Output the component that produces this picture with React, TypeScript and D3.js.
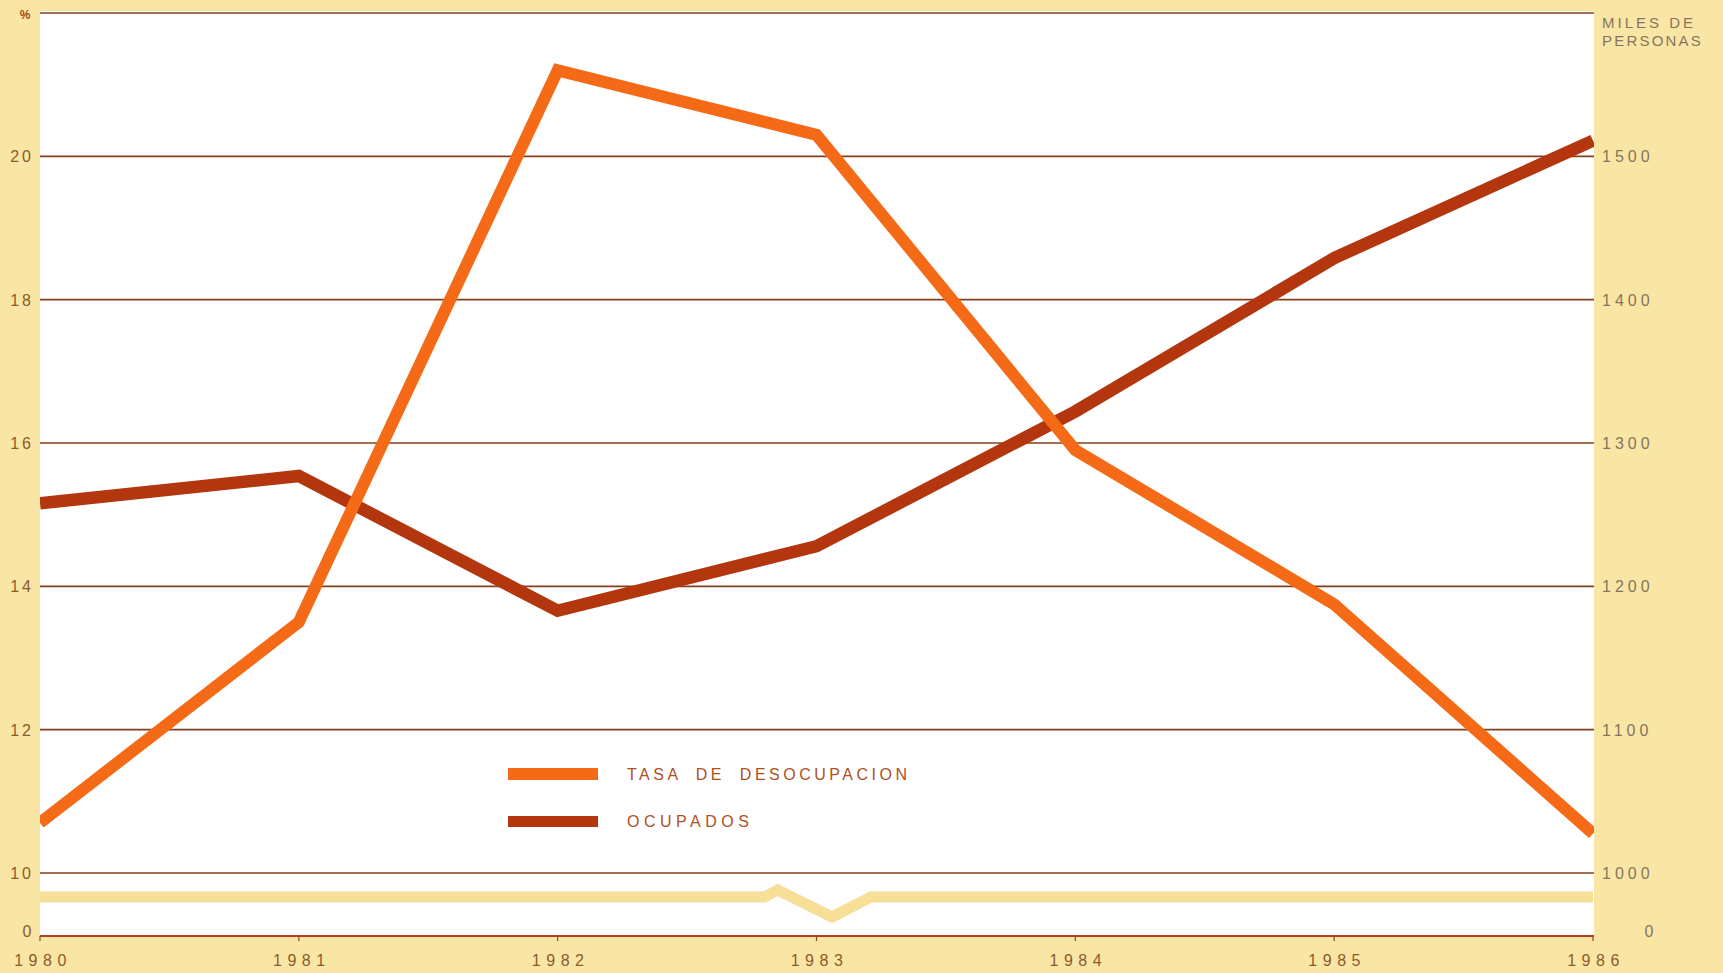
import React from "react";
import * as d3 from "d3";

const years = [1980, 1981, 1982, 1983, 1984, 1985, 1986];
const desocupacion = [10.7, 13.5, 21.2, 20.3, 15.9, 13.75, 10.55];
const ocupados = [1258, 1277, 1183, 1228, 1322, 1429, 1511];
const leftTicks = [10, 12, 14, 16, 18, 20];
const rightTicks = [1000, 1100, 1200, 1300, 1400, 1500];
const gridLevels = [10, 12, 14, 16, 18, 20, 22];
// broken-axis band marker
const breakX = [1980, 1982.8, 1982.85, 1983.06, 1983.21, 1986];
const breakDy = [0, 0, -7, 20, 0, 0];

const W = 1723;
const H = 973;
const L = 40;
const R = 1594;
const BG = "#fae6a4";
const ORANGE = "#f46a16";
const DARK = "#b3360f";
const GRID = "#84401a";

export default function App() {
  const x = d3.scaleLinear().domain([1980, 1986]).range([L, R - 1]);
  const yL = d3.scaleLinear().domain([10, 22]).range([873, 13]);
  const yR = d3.scaleLinear().domain([1000, 1600]).range([873, 13]);
  const zeroY = 936;
  const bandY = 897;

  const lineL = d3
    .line<number>()
    .x((_, i) => x(years[i]))
    .y((d) => yL(d));
  const lineR = d3
    .line<number>()
    .x((_, i) => x(years[i]))
    .y((d) => yR(d));
  const bandLine = d3
    .line<number>()
    .x((d) => x(d))
    .y((_, i) => bandY + breakDy[i]);

  const font = "'Liberation Sans', Arial, sans-serif";

  return (
    <svg
      width={W}
      height={H}
      style={{ position: "absolute", left: 0, top: 0, display: "block" }}
      fontFamily={font}
    >
      <defs>
        <clipPath id="plot">
          <rect x={L} y={0} width={R - L} height={zeroY} />
        </clipPath>
      </defs>
      <rect x={0} y={0} width={W} height={H} fill={BG} />
      <rect x={L} y={11} width={R - L} height={zeroY - 11} fill="#ffffff" />

      {/* break band */}
      <path
        d={bandLine(breakX) || ""}
        fill="none"
        stroke="#f8df98"
        strokeWidth={11}
        strokeLinejoin="miter"
      />

      {/* gridlines */}
      {gridLevels.map((v) => (
        <line
          key={v}
          x1={L}
          x2={R}
          y1={yL(v)}
          y2={yL(v)}
          stroke={GRID}
          strokeWidth={1.6}
        />
      ))}
      {/* bottom axis */}
      <line x1={L} x2={R} y1={zeroY} y2={zeroY} stroke="#b04020" strokeWidth={2} />
      {years.map((yr) => (
        <line
          key={yr}
          x1={x(yr)}
          x2={x(yr)}
          y1={zeroY}
          y2={zeroY + 5}
          stroke="#8a4a20"
          strokeWidth={1.2}
        />
      ))}

      {/* data lines */}
      <g clipPath="url(#plot)">
        <path
          d={lineR(ocupados) || ""}
          fill="none"
          stroke={DARK}
          strokeWidth={12.5}
          strokeLinejoin="miter"
        />
        <path
          d={lineL(desocupacion) || ""}
          fill="none"
          stroke={ORANGE}
          strokeWidth={12}
          strokeLinejoin="miter"
        />
      </g>

      {/* left labels */}
      <text x={25} y={19} fontSize={12} fontWeight="bold" fill="#9a4a1e" textAnchor="middle">
        %
      </text>
      {leftTicks.map((v) => (
        <text
          key={v}
          x={34}
          y={yL(v) + 6}
          fontSize={16}
          letterSpacing={3}
          fill="#8c5a2e"
          textAnchor="end"
        >
          {v}
        </text>
      ))}
      <text x={27} y={937} fontSize={16} fill="#8c5a2e" textAnchor="middle">
        0
      </text>

      {/* right labels */}
      <text x={1602} y={28} fontSize={15} letterSpacing={3} fill="#857560">
        MILES DE
      </text>
      <text x={1602} y={46} fontSize={15} letterSpacing={2.2} fill="#857560">
        PERSONAS
      </text>
      {rightTicks.map((v) => (
        <text
          key={v}
          x={1602}
          y={yR(v) + 6}
          fontSize={16}
          letterSpacing={4}
          fill="#857560"
        >
          {v}
        </text>
      ))}
      <text x={1649} y={937} fontSize={16} fill="#857560" textAnchor="middle">
        0
      </text>

      {/* x labels */}
      {years.map((yr) => (
        <text
          key={yr}
          x={x(yr) + 3}
          y={966}
          fontSize={16}
          letterSpacing={5.5}
          fill="#8c5a2e"
          textAnchor="middle"
        >
          {yr}
        </text>
      ))}

      {/* legend */}
      <rect x={508} y={768} width={90} height={12} fill={ORANGE} />
      <rect x={508} y={816} width={90} height={11} fill={DARK} />
      <text
        x={627}
        y={780}
        fontSize={16}
        letterSpacing={3.5}
        wordSpacing={7}
        fill="#b0501e"
      >
        TASA DE DESOCUPACION
      </text>
      <text x={627} y={827} fontSize={16} letterSpacing={4.5} fill="#b0501e">
        OCUPADOS
      </text>
    </svg>
  );
}
